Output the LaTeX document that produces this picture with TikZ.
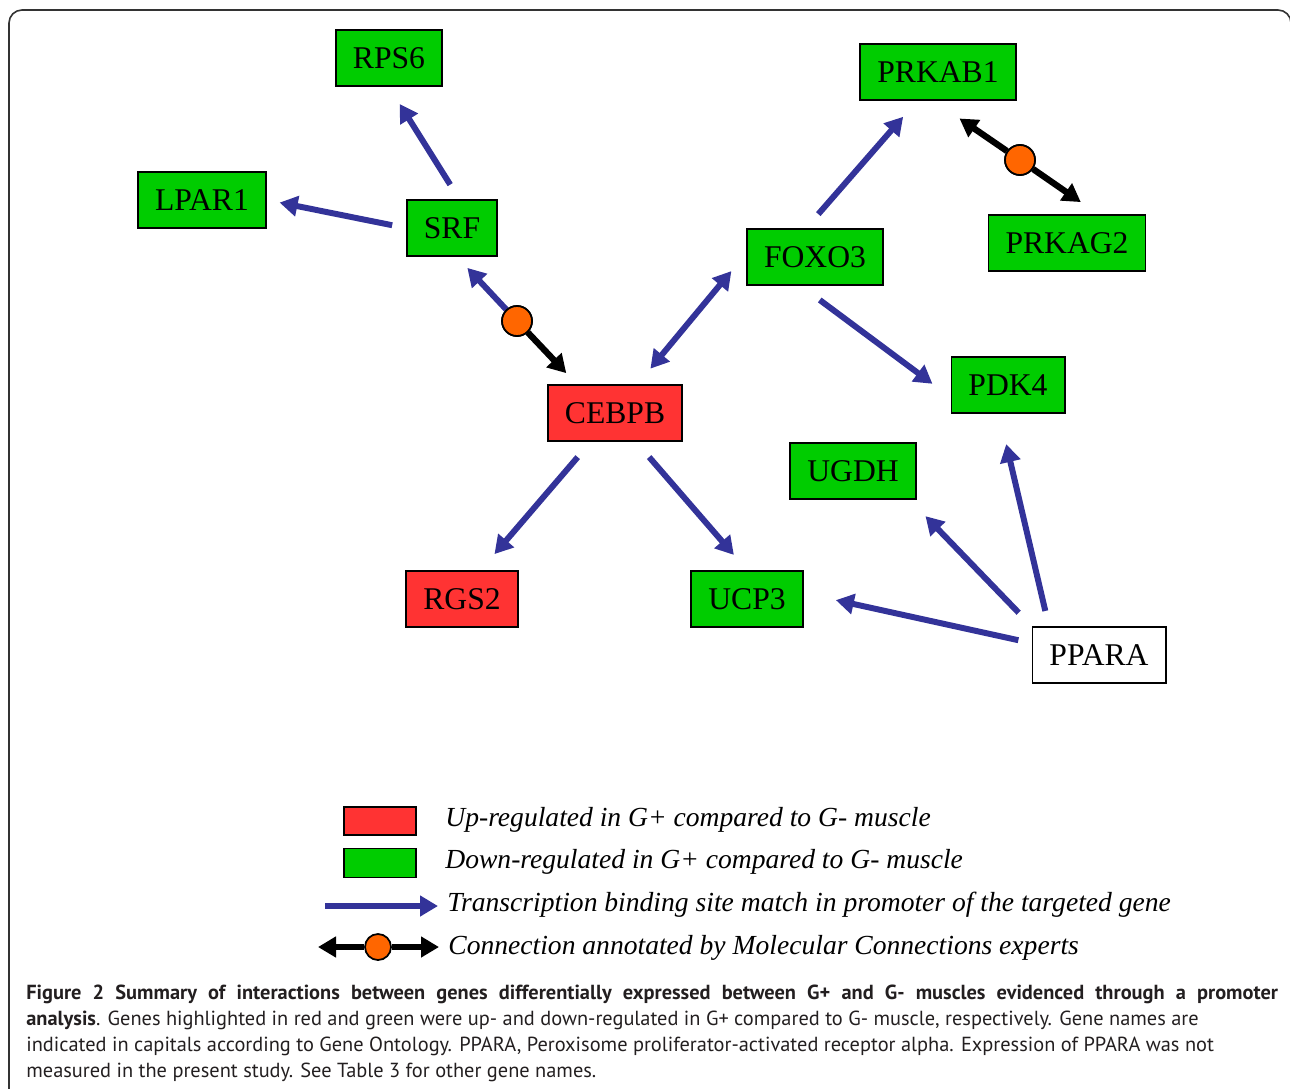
\documentclass[tikz,border=0pt]{standalone}
\usepackage{fontspec}
\setmainfont{Liberation Serif}
\newfontfamily\capfont{PT Sans}
\usetikzlibrary{shapes,arrows.meta,positioning}
\definecolor{tfblue}{RGB}{51,51,153}
\definecolor{upred}{RGB}{255,51,51}
\definecolor{downgreen}{RGB}{0,204,0}
\definecolor{mcorange}{RGB}{255,102,0}
\definecolor{capgray}{RGB}{35,31,32}
\tikzstyle{gene} = [rectangle, draw, line width=1.1pt, minimum height=1.12cm, inner xsep=0.34cm, font=\fontsize{18}{20}\selectfont]
\tikzstyle{gnode} = [gene, fill=downgreen]
\tikzstyle{rnode} = [gene, fill=upred]
\tikzstyle{wnode} = [gene, fill=white]
\tikzstyle{odot} = [circle, draw, fill=mcorange, line width=1pt, minimum size=0.6cm, inner sep=0pt]
\tikzstyle{tfline} = [draw, tfblue, line width=3.4pt, -{Triangle[length=0.36cm,width=0.4cm]}]
\tikzstyle{tfboth} = [draw, tfblue, line width=3.4pt, {Triangle[length=0.36cm,width=0.4cm]}-{Triangle[length=0.36cm,width=0.4cm]}]
\tikzstyle{mcline} = [draw, black, line width=3.6pt, -{Triangle[length=0.36cm,width=0.4cm]}]
\tikzstyle{legtext} = [anchor=west, inner sep=0pt, font=\fontsize{15.7}{18}\selectfont\itshape]
\tikzstyle{capline} = [anchor=base west, inner sep=0pt, text=capgray, font=\capfont\fontsize{11.6}{13}\selectfont]

\begin{document}
\begin{tikzpicture}[x=0.02cm, y=-0.02cm]
			\useasboundingbox (0, 0) rectangle (1290, 1088);
			\draw [line width=0.9pt, black!80, rounded corners=0.26cm] (9, 1200) -- (9, 10) -- (1291, 10) -- (1291, 1200);
			
			% genes
			\node [gnode] (rps6) at (389, 58) {RPS6};
			\node [gnode] (lpar1) at (202, 200) {LPAR1};
			\node [gnode] (srf) at (452, 228) {SRF};
			\node [gnode] (prkab1) at (938, 72) {PRKAB1};
			\node [gnode] (prkag2) at (1067, 243) {PRKAG2};
			\node [gnode] (foxo3) at (815, 257) {FOXO3};
			\node [rnode] (cebpb) at (615, 413) {CEBPB};
			\node [gnode] (pdk4) at (1008, 385) {PDK4};
			\node [gnode] (ugdh) at (853, 471) {UGDH};
			\node [rnode] (rgs2) at (462, 599) {RGS2};
			\node [gnode] (ucp3) at (747, 599) {UCP3};
			\node [wnode] (ppara) at (1099, 655) {PPARA};
			\node [odot] (m1) at (517, 321) {};
			\node [odot] (m2) at (1020, 160) {};
			
			% transcription binding sites
			\path [tfline, shorten <=0.34cm, shorten >=0.4cm] (srf.76) -- (rps6.south);
			\path [tfline, shorten <=0.28cm, shorten >=0.26cm] (srf.west) -- (lpar1.east);
			\path [tfline, shorten >=0.3cm] (m1) -- (srf.-80);
			\path [tfboth, shorten <=0.4cm, shorten >=0.46cm] (cebpb.52) -- (foxo3.177);
			\path [tfline, shorten <=0.37cm, shorten >=0.42cm] (foxo3.107) -- (prkab1.234);
			\path [tfline, shorten <=0.47cm, shorten >=0.45cm] (foxo3.244) -- (pdk4.-168);
			\path [tfline, shorten <=0.4cm, shorten >=0.42cm] (cebpb.230) -- (rgs2.57);
			\path [tfline, shorten <=0.4cm, shorten >=0.4cm] (cebpb.-54) -- (ucp3.north);
			\path [tfline, shorten <=0.27cm, shorten >=0.66cm] (ppara.170) -- (ucp3.6);
			\path [tfline, shorten <=0.37cm, shorten >=0.45cm] (ppara.north west) -- (ugdh.-27);
			\path [tfline, shorten <=0.31cm, shorten >=0.62cm] (ppara.150) -- (pdk4.-107);
			
			% annotated connections
			\path [mcline, shorten >=0.3cm] (m1) -- (cebpb.143);
			\path [mcline, shorten >=0.62cm] (m2) -- (prkab1.262);
			\path [mcline, shorten >=0.42cm] (m2) -- (prkag2.43);
			\node [odot] at (m1) {};
			\node [odot] at (m2) {};
			
			% legend
			\node [rnode, minimum width=1.44cm, minimum height=0.56cm, line width=0.9pt] (kup) at (380, 821) {};
			\node [gnode, minimum width=1.44cm, minimum height=0.58cm, line width=0.9pt] (kdown) at (380, 863) {};
			\node [legtext] (tup) at (445, 820) {Up-regulated in G+ compared to G- muscle};
			\node [legtext] (tdown) at (445, 862) {Down-regulated in G+ compared to G- muscle};
			\node [legtext] (ttf) at (447, 905) {Transcription binding site match in promoter of the targeted gene};
			\node [legtext] (tmc) at (448, 948) {Connection annotated by Molecular Connections experts};
			\coordinate (ktfa) at (325, 906);
			\coordinate (ktfb) at (438, 906);
			\path [tfline] (ktfa) -- (ktfb);
			\node [odot, minimum size=0.52cm] (kmc) at (378, 947) {};
			\coordinate (kmca) at (318, 947);
			\coordinate (kmcb) at (439, 947);
			\path [mcline] (kmc) -- (kmca);
			\path [mcline] (kmc) -- (kmcb);
			
			% caption
			\node [capline] (cap1) at (26, 999) {\makebox[25.04cm][s]{\bfseries Figure 2 Summary of interactions between genes differentially expressed between G+ and G- muscles evidenced through a promoter}};
			\node [capline] (cap2) at (26, 1025) {\textbf{analysis}. Genes highlighted in red and green were up- and down-regulated in G+ compared to G- muscle, respectively. Gene names are};
			\node [capline] (cap3) at (26, 1051) {indicated in capitals according to Gene Ontology. PPARA, Peroxisome proliferator-activated receptor alpha. Expression of PPARA was not};
			\node [capline] (cap4) at (26, 1077) {measured in the present study. See Table 3 for other gene names.};
		\end{tikzpicture}
\end{document}
